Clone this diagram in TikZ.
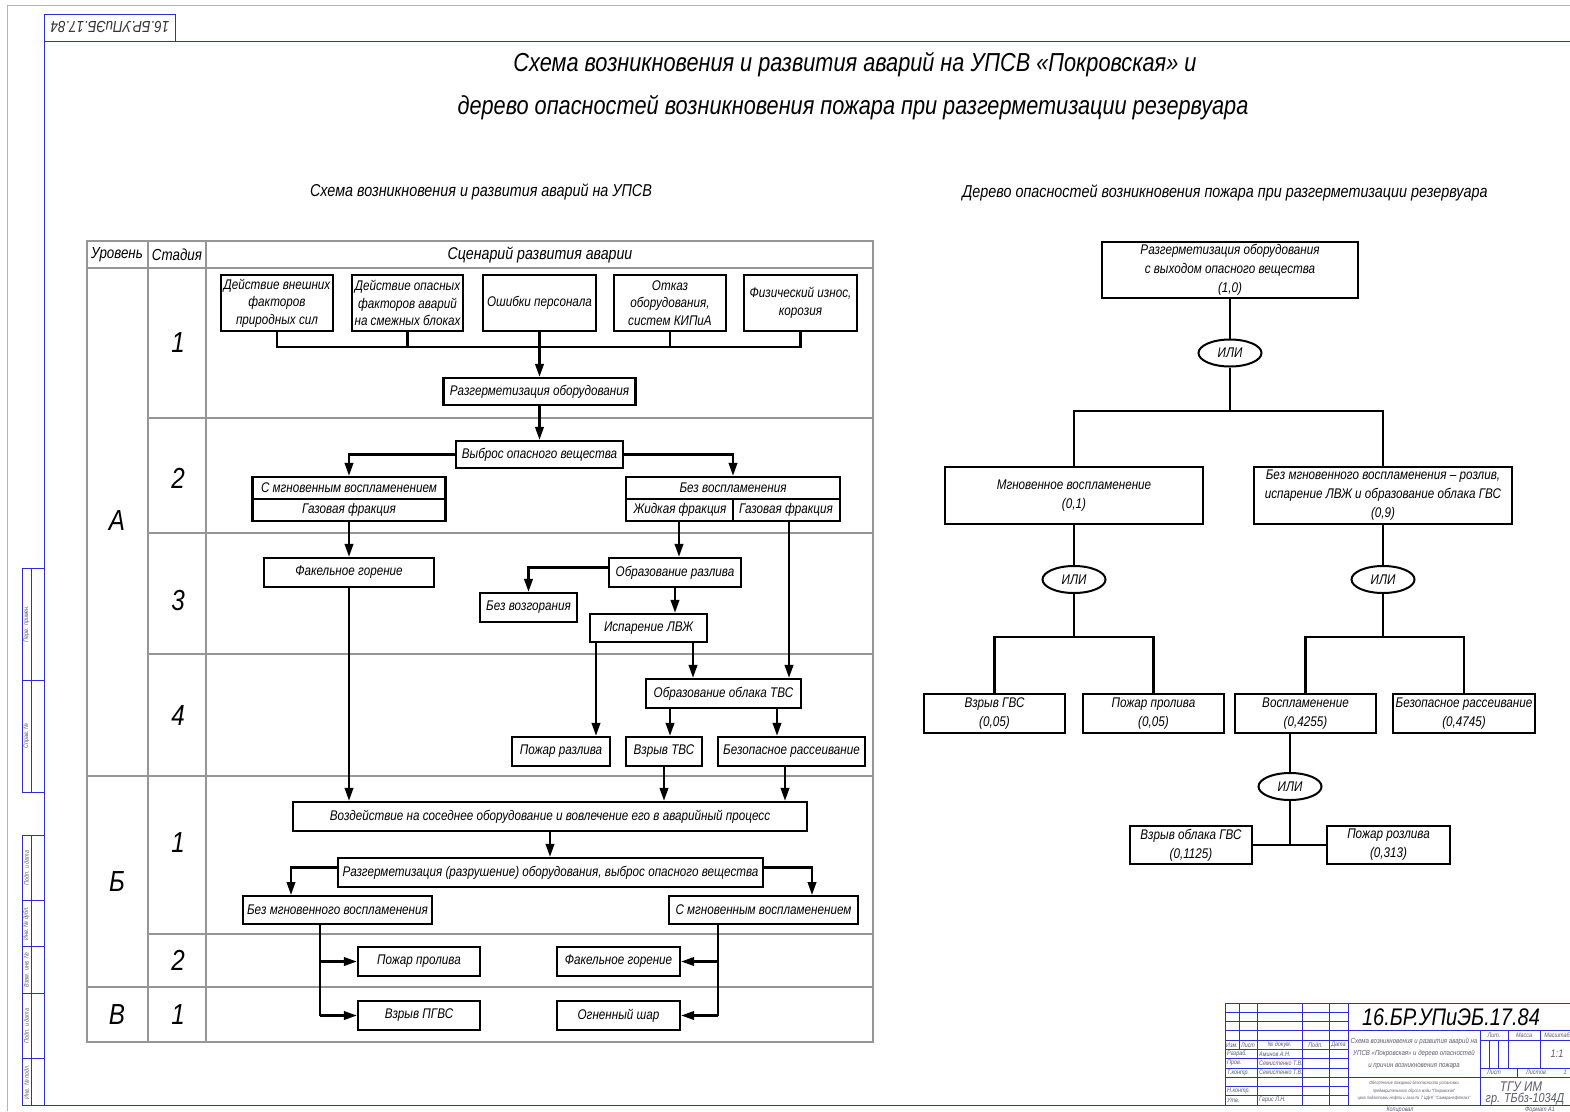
\documentclass[tikz,border=0pt]{standalone}
\usepackage{fontspec}
\setmainfont{Liberation Sans}[FakeStretch=0.835]
\usetikzlibrary{arrows.meta,shapes.geometric}
\definecolor{frameblue}{RGB}{45,45,215}
\definecolor{gridgray}{RGB}{150,150,150}
\definecolor{labelgray}{RGB}{90,90,110}
\begin{document}
\begin{tikzpicture}[x=1pt,y=-1pt,
  sz/.style 2 args={minimum width=#1pt, minimum height=#2pt},
  fsz/.style 2 args={font=\itshape\fontsize{#1}{#2}\selectfont},
  box/.style={draw, line width=2.3pt, inner sep=0pt, align=center, fsz={14}{17.5}},
  leaf/.style={draw, line width=2pt, inner sep=0pt, align=center, fsz={14}{19}},
  gate/.style={draw, ellipse, line width=2pt, minimum width=63pt, minimum height=27pt, inner sep=0pt, fsz={14}{16}},
  conn/.style={line width=2.2pt},
  arr/.style={line width=2.3pt, -{Triangle[length=13pt,width=8.5pt]}},
  divider/.style={line width=1.1pt},
  grid/.style={draw=gridgray, line width=1.2pt},
  txt/.style={inner sep=0pt, fsz={14}{17}},
  frm/.style={draw=frameblue, line width=1pt},
  tbl/.style={draw=frameblue, line width=0.8pt},
  tiny/.style={inner sep=0pt, text=labelgray, fsz={6.5}{7}},
]
\useasboundingbox (0,0) rectangle (1570,1111);

% ---------- sheet edge and frame ----------
\draw[gray!60, line width=0.8pt] (7,1111) -- (7,5) -- (1570,5);
\draw[frm] (44,14) -- (44,1105) -- (1574,1105);
\draw[frm] (44,41) -- (1574,41);
\draw[frm] (44,14) rectangle (175,41);
\node[inner sep=0pt, rotate=180, text=black!80, fsz={16}{18}] (stamp) at (110,27.5) {16.БР.УПиЭБ.17.84};

% left binding strip
\draw[frm] (22,568) rectangle (44,792);
\draw[frm] (31,568) -- (31,792);
\draw[frm] (22,680) -- (44,680);
\draw[frm] (22,835) rectangle (44,1105);
\draw[frm] (31,835) -- (31,1105);
\foreach \yy in {900.4,946.9,993.4,1058.5} \draw[frm] (22,\yy) -- (44,\yy);
\node[tiny, rotate=90] (s1) at (26.5,624) {Перв. примен.};
\node[tiny, rotate=90] (s2) at (26.5,736) {Справ. №};
\node[tiny, rotate=90] (s3) at (26.5,868) {Подп. и дата};
\node[tiny, rotate=90] (s4) at (26.5,923.6) {Инв. № дубл.};
\node[tiny, rotate=90] (s5) at (26.5,970) {Взам. инв. №};
\node[tiny, rotate=90] (s6) at (26.5,1026) {Подп. и дата};
\node[tiny, rotate=90] (s7) at (26.5,1082) {Инв. № подл.};

% ---------- titles ----------
\node[inner sep=0pt, fsz={26}{30}] (title1) at (855,65) {Схема возникновения и развития аварий на УПСВ «Покровская» и};
\node[inner sep=0pt, fsz={26}{30}] (title2) at (853,108) {дерево опасностей возникновения пожара при разгерметизации резервуара};
\node[inner sep=0pt, fsz={17.2}{20}] (sub1) at (481,192) {Схема возникновения и развития аварий на УПСВ};
\node[inner sep=0pt, fsz={17.2}{20}] (sub2) at (1225,193) {Дерево опасностей возникновения пожара при разгерметизации резервуара};

% ---------- table grid ----------
\draw[grid] (87,241) rectangle (873,1042);
\draw[grid] (87,268) -- (873,268);
\draw[grid] (148,241) -- (148,1042);
\draw[grid] (206,241) -- (206,1042);
\foreach \yy in {418,533,654,934} \draw[grid] (148,\yy) -- (873,\yy);
\foreach \yy in {776,987} \draw[grid] (87,\yy) -- (873,\yy);

\node[inner sep=0pt, fsz={16}{18}] (h1) at (117,255) {Уровень};
\node[inner sep=0pt, fsz={16}{18}] (h2) at (177,255) {Стадия};
\node[inner sep=0pt, fsz={17}{19}] (h3) at (540,255) {Сценарий развития аварии};

\tikzset{big/.style={inner sep=0pt, fsz={29}{30}}}
\node[big] (lA) at (117,521) {А};
\node[big] (lB) at (117,882) {Б};
\node[big] (lV) at (117,1015) {В};
\node[big] (st1) at (178,343) {1};
\node[big] (st2) at (178,478) {2};
\node[big] (st3) at (178,601) {3};
\node[big] (st4) at (178,716) {4};
\node[big] (st5) at (178,843) {1};
\node[big] (st6) at (178,960) {2};
\node[big] (st7) at (178,1015) {1};

% ---------- scenario chart ----------
\node[box, sz={112}{56}] (b1) at (277,303) {Действие внешних\\факторов\\природных сил};
\node[box, sz={111}{56}] (b2) at (407.5,303) {Действие опасных\\факторов аварий\\на смежных блоках};
\node[box, sz={113}{56}] (b3) at (539.5,303) {Ошибки персонала};
\node[box, sz={112}{56}] (b4) at (670,303) {Отказ\\оборудования,\\систем КИПиА};
\node[box, sz={113}{56}] (b5) at (800.5,303) {Физический износ,\\корозия};
\coordinate (bus) at (277,347);
\draw[conn] (b1.south) -- (bus) -| (b5.south);
\draw[conn] (b2.south) -- (b2.south |- bus);
\draw[conn] (b4.south) -- (b4.south |- bus);

\node[box, sz={192}{27}] (b6) at (539.5,391.5) {Разгерметизация оборудования};
\draw[arr] (b3.south) -- (b6.north);
\node[box, sz={167}{27}] (b7) at (539.5,454.5) {Выброс опасного вещества};
\draw[arr] (b6.south) -- (b7.north);

\node[box, sz={193}{44}] (b8) at (349,499) {};
\draw[divider] (b8.west) -- (b8.east);
\node[txt] (b8t) at (349,488) {С мгновенным воспламенением};
\node[txt] (b8b) at (349,510) {Газовая фракция};

\node[box, sz={214}{44}] (b9) at (733,499) {};
\draw[divider] (b9.west) -- (b9.east);
\draw[divider] (b9.center) -- (b9.south);
\node[txt] (b9t) at (733,488) {Без воспламенения};
\node[txt] (b9l) at (680,510) {Жидкая фракция};
\node[txt] (b9r) at (786,510) {Газовая фракция};

\draw[arr] (b7.west) -| (b8.north);
\draw[arr] (b7.east) -| (b9.north);

\node[box, sz={170}{29}] (b10) at (349,572.5) {Факельное горение};
\draw[arr] (b8.south) -- (b10.north);

\node[box, sz={132}{29}] (b11) at (675,572.5) {Образование разлива};
\coordinate (b9L) at (679,522);
\coordinate (b9R) at (789,522);
\draw[arr] (b9L) -- (b9L |- b11.north);

\node[box, sz={97}{29}] (b12) at (528.5,607.5) {Без возгорания};
\draw[arr] ([yshift=5pt]b11.west) -| (b12.north);

\node[box, sz={117}{28}] (b13) at (648.5,628) {Испарение ЛВЖ};
\draw[arr] (b11.south) -- (b11.south |- b13.north);

\node[box, sz={155}{29}] (b14) at (723.5,693.5) {Образование облака ТВС};
\node[box, sz={98}{29}] (b15) at (561,751.5) {Пожар разлива};
\node[box, sz={76}{29}] (b16) at (664,751.5) {Взрыв ТВС};
\node[box, sz={147}{29}] (b17) at (791.5,751.5) {Безопасное рассеивание};

\coordinate (b13a) at (596,643);
\coordinate (b13b) at (693,643);
\draw[arr] (b13a) -- (b13a |- b15.north);
\draw[arr] (b13b) -- (b13b |- b14.north);
\draw[arr] (b9R) -- (b9R |- b14.north);
\coordinate (b14a) at (670,709);
\coordinate (b14b) at (777,709);
\draw[arr] (b14a) -- (b14a |- b16.north);
\draw[arr] (b14b) -- (b14b |- b17.north);

\node[box, sz={514}{29}] (b18) at (550,816.5) {Воздействие на соседнее оборудование и вовлечение его в аварийный процесс};
\coordinate (b17s) at (785,767);
\draw[arr] (b10.south) -- (b10.south |- b18.north);
\draw[arr] (b16.south) -- (b16.south |- b18.north);
\draw[arr] (b17s) -- (b17s |- b18.north);

\node[box, sz={425}{29}] (b19) at (550.5,872.5) {Разгерметизация (разрушение) оборудования, выброс опасного вещества};
\draw[arr] (b18.south) -- (b18.south |- b19.north);

\node[box, sz={189}{28}] (b20) at (337.5,910) {Без мгновенного воспламенения};
\node[box, sz={189}{28}] (b21) at (763.5,910) {С мгновенным воспламенением};
\coordinate (b20n) at (291,895);
\coordinate (b21n) at (812,895);
\draw[arr] ([yshift=5pt]b19.west) -| (b20n);
\draw[arr] ([yshift=5pt]b19.east) -| (b21n);

\node[box, sz={122}{29}] (b22) at (419,961.5) {Пожар пролива};
\node[box, sz={122}{29}] (b23) at (419,1015.5) {Взрыв ПГВС};
\node[box, sz={123}{29}] (b24) at (618.5,961.5) {Факельное горение};
\node[box, sz={123}{29}] (b25) at (618.5,1015.5) {Огненный шар};

\coordinate (b20s) at (320,925);
\coordinate (b21s) at (718,925);
\draw[conn] (b20s) -- (b20s |- b23.west);
\draw[arr] (b20s |- b22.west) -- (b22.west);
\draw[arr] (b20s |- b23.west) -- (b23.west);
\draw[conn] (b21s) -- (b21s |- b25.east);
\draw[arr] (b21s |- b24.east) -- (b24.east);
\draw[arr] (b21s |- b25.east) -- (b25.east);

% ---------- hazard tree ----------
\node[leaf, sz={256}{56}] (t1) at (1230,270) {Разгерметизация оборудования\\с выходом опасного вещества\\(1,0)};
\node[gate] (g1) at (1230,353) {ИЛИ};
\draw[conn] (t1.south) -- (g1.north);
\coordinate (j1) at (1230,411);
\draw[conn] (g1.south) -- (j1);

\node[leaf, sz={258}{57}] (t2) at (1074,495.5) {Мгновенное воспламенение\\(0,1)};
\node[leaf, sz={258}{57}] (t3) at (1383,495.5) {Без мгновенного воспламенения – розлив,\\испарение ЛВЖ и образование облака ГВС\\(0,9)};
\draw[conn] (t2.north) |- (j1) -| (t3.north);

\node[gate] (g2) at (1074,579.5) {ИЛИ};
\node[gate] (g3) at (1383,579.5) {ИЛИ};
\draw[conn] (t2.south) -- (g2.north);
\draw[conn] (t3.south) -- (g3.north);
\coordinate (j2) at (1074,637);
\coordinate (j3) at (1383,637);
\draw[conn] (g2.south) -- (j2);
\draw[conn] (g3.south) -- (j3);

\node[leaf, sz={141}{39}] (l1) at (994.5,713.5) {Взрыв ГВС\\(0,05)};
\node[leaf, sz={141}{39}] (l2) at (1153.5,713.5) {Пожар пролива\\(0,05)};
\node[leaf, sz={141}{39}] (l3) at (1305.5,713.5) {Воспламенение\\(0,4255)};
\node[leaf, sz={142}{39}] (l4) at (1464,713.5) {Безопасное рассеивание\\(0,4745)};
\draw[conn] (l1.north) |- (j2) -| (l2.north);
\draw[conn] (l3.north) |- (j3) -| (l4.north);

\node[gate] (g4) at (1290,786.5) {ИЛИ};
\coordinate (l3s) at (1290,733);
\draw[conn] (l3s) -- (g4.north);
\coordinate (j4) at (1290,845);
\draw[conn] (g4.south) -- (j4);
\node[leaf, sz={122}{38}] (m1) at (1191,845) {Взрыв облака ГВС\\(0,1125)};
\node[leaf, sz={123}{38}] (m2) at (1388.5,845) {Пожар розлива\\(0,313)};
\draw[conn] (m1.east) -- (m2.west);

% ---------- title block ----------
\draw[tbl] (1225,1003) rectangle (1574,1105);
\foreach \k in {1,...,10} \draw[tbl] (1225,1003+9.27*\k) -- (1348,1003+9.27*\k);
\draw[tbl] (1239,1003) -- (1239,1049.4);
\foreach \xx in {1257,1302,1329,1348} \draw[tbl] (\xx,1003) -- (\xx,1105);
\draw[tbl] (1348,1030.8) -- (1574,1030.8);
\draw[tbl] (1348,1077.2) -- (1574,1077.2);
\draw[tbl] (1480,1030.8) -- (1480,1105);
\draw[tbl] (1480,1040.1) -- (1574,1040.1);
\draw[tbl] (1480,1067.9) -- (1574,1067.9);
\draw[tbl] (1508,1030.8) -- (1508,1067.9);
\draw[tbl] (1540,1030.8) -- (1540,1067.9);
\draw[tbl] (1489.3,1040.1) -- (1489.3,1067.9);
\draw[tbl] (1498.6,1040.1) -- (1498.6,1067.9);
\draw[tbl] (1517,1067.9) -- (1517,1077.2);

\node[inner sep=0pt, fsz={24}{26}] (code) at (1451,1017) {16.БР.УПиЭБ.17.84};
\node[tiny] (c1) at (1232,1044.8) {Изм.};
\node[tiny] (c2) at (1248,1044.8) {Лист};
\node[tiny] (c3) at (1279.5,1044.8) {№ докум.};
\node[tiny] (c4) at (1315.5,1044.8) {Подп.};
\node[tiny] (c5) at (1338.5,1044.8) {Дата};
\node[tiny, anchor=west] (r1) at (1227,1054) {Разраб.};
\node[tiny, anchor=west] (r2) at (1227,1063.3) {Пров.};
\node[tiny, anchor=west] (r3) at (1227,1072.5) {Т.контр.};
\node[tiny, anchor=west] (r4) at (1227,1091) {Н.контр.};
\node[tiny, anchor=west] (r5) at (1227,1100.3) {Утв.};
\node[tiny, anchor=west] (n1) at (1259,1054) {Аминов А.Н.};
\node[tiny, anchor=west] (n2) at (1259,1063.3) {Семистенко Т.В.};
\node[tiny, anchor=west] (n3) at (1259,1072.5) {Семистенко Т.В.};
\node[tiny, anchor=west] (n4) at (1259,1100.3) {Гарис Л.Н.};
\node[inner sep=0pt, text=labelgray, align=center, fsz={7.3}{12}] (nm) at (1414,1054) {Схема возникновения и развития аварий на\\УПСВ «Покровская» и дерево опасностей\\и причин возникновения пожара};
\node[inner sep=0pt, text=labelgray, align=center, fsz={4.6}{7.6}] (org) at (1414,1091) {Обеспечение пожарной безопасности установки\\предварительного сброса воды "Покровская"\\цеха подготовки нефти и газа № 7 ЦДНГ "Самаранефтегаз"};
\node[tiny] (k1) at (1494,1035.5) {Лит.};
\node[tiny] (k2) at (1524,1035.5) {Масса};
\node[tiny] (k3) at (1557,1035.5) {Масштаб};
\node[inner sep=0pt, text=labelgray, fsz={11}{12}] (scale) at (1557,1054) {1:1};
\node[tiny] (k4) at (1494,1072.5) {Лист};
\node[tiny] (k5) at (1536,1072.5) {Листов};
\node[tiny] (k6) at (1565,1072.5) {1};
\node[inner sep=0pt, text=labelgray, fsz={14}{15}] (org2) at (1521,1087) {ТГУ ИМ};
\node[inner sep=0pt, text=labelgray, fsz={13}{14}] (grp) at (1525,1099) {гр. ТБбз-1034Д};
\node[tiny] (cop) at (1400,1110) {Копировал};
\node[tiny] (fmt) at (1540,1110) {Формат А1};
\end{tikzpicture}
\end{document}
